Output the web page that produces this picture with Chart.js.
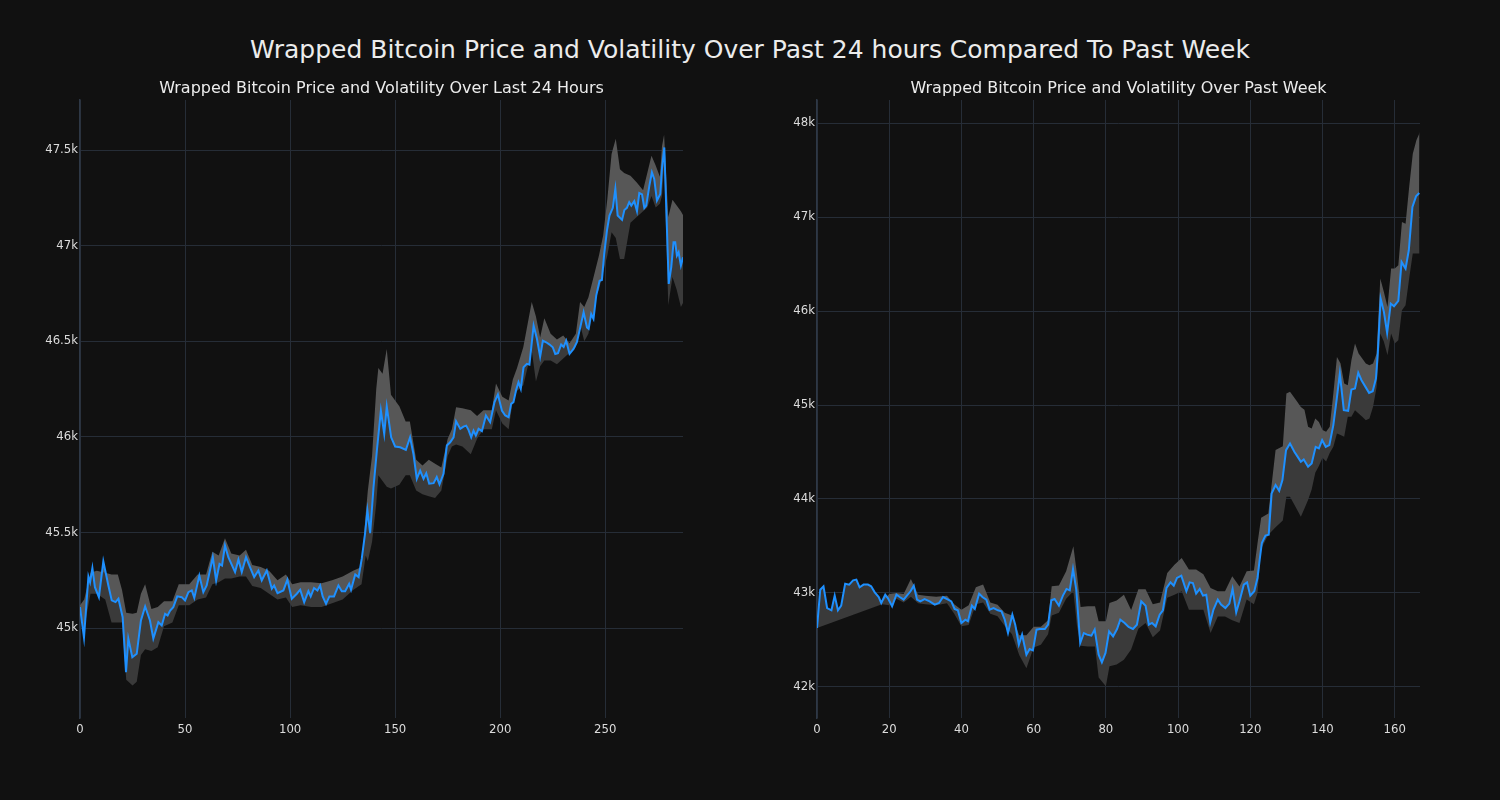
<!DOCTYPE html>
<html>
<head>
<meta charset="utf-8">
<script src="https://cdn.jsdelivr.net/npm/chart.js@4.4.0/dist/chart.umd.min.js"></script>
<style>
  html, body { margin: 0; padding: 0; background: #111111; width: 1500px; height: 800px; overflow: hidden; }
  #title { position: absolute; left: 0; top: 35px; width: 1500px; text-align: center; font: 25px "DejaVu Sans", sans-serif; line-height: 30px; color: #ececec; }
  canvas { position: absolute; }
</style>
</head>
<body>
<div id="title">Wrapped Bitcoin Price and Volatility Over Past 24 hours Compared To Past Week</div>
<canvas id="c1" width="763" height="678" style="left:0px;top:70px;"></canvas>
<canvas id="c2" width="763" height="678" style="left:737px;top:70px;"></canvas>
<script>
// ---------- Left: last 24 hours (5-minute steps) ----------
const dayX = [0,1.9,4,4.8,5.9,7.1,9,11.1,13.5,15.1,16.9,18.3,20.3,21.9,23,24.9,27,29,31,33.3,34.9,37.3,38.9,40.5,41.7,42.9,44.4,46.3,48.4,50,51.6,53.2,54.4,56.8,58.7,60.3,63.2,64.8,66.4,67.6,69,70.6,73.8,75.4,77,79,80.9,82.9,84.9,86.5,88.9,91.3,92.4,94,96.8,98.7,100.8,103.2,104.8,106.7,108.7,109.8,111.4,113,114.3,115.5,117.1,118.7,120.9,123,124.6,126.2,128.1,129,131,132.6,134.1,135.7,136.8,138.1,139.7,141.3,143.2,144.8,146,148.1,150,152.4,155.1,157.1,158.7,160.3,161.9,163.5,164.8,166.2,168.3,169.8,171.1,173,174.6,176.2,177.8,179,181,182.5,183.8,184.9,186.2,187.3,188.4,189.7,191.3,193.2,195.2,197.3,198.9,200.8,202.4,204,205.2,206.3,207.6,208.7,209.8,211.1,212.7,213.9,215.9,217.5,219,220.3,221.9,223.5,225,226.2,227.5,229,230.2,231.4,233,234.9,236.5,238.1,239.7,241.3,242.1,243.3,244.4,245.7,247.3,248.4,249.5,250.8,252,253.6,254.8,255.9,258,259.1,260.3,261.4,262.4,263.8,265.1,266.2,267.5,268.6,269.5,271,272.2,273.3,274.6,276.2,277,278.1,280.2,281.4,282.5,283.3,284.1,284.9,286,287];
const dayPrice = [45110,44950,45270,45240,45314,45214,45162,45349,45223,45145,45136,45154,45057,44770,44945,44848,44866,45040,45113,45040,44945,45031,45014,45075,45066,45092,45110,45166,45162,45145,45188,45197,45158,45275,45188,45223,45371,45249,45336,45327,45432,45371,45293,45358,45293,45371,45319,45267,45301,45249,45301,45206,45223,45183,45197,45253,45154,45180,45201,45136,45193,45166,45210,45197,45223,45166,45127,45166,45166,45223,45193,45193,45232,45201,45281,45267,45363,45497,45615,45497,45737,45929,46138,46016,46159,45998,45950,45946,45932,45998,45911,45781,45824,45781,45810,45755,45758,45790,45752,45807,45955,45972,45998,46082,46042,46054,46059,46037,45998,46033,46007,46042,46030,46112,46077,46182,46222,46138,46112,46103,46173,46182,46246,46286,46251,46364,46382,46378,46582,46512,46420,46503,46495,46483,46469,46434,46438,46483,46470,46503,46434,46460,46495,46573,46652,46573,46565,46643,46617,46739,46817,46821,46957,47079,47158,47198,47297,47158,47135,47187,47198,47228,47210,47233,47181,47275,47268,47198,47210,47314,47384,47349,47236,47271,47405,47514,46800,46887,47018,47018,46948,46966,46896,46939];
const dayBandX = [0,2,5,8,12,15,18,20,22,25,27,29,31,34,37,40,44,47,52,56,60,63,66,69,72,76,79,82,86,90,94,98,101,105,110,115,120,125,130,134,136,137,139,141,142,144,146,148,152,155,157,160,163,166,169,172,175,177,179,182,186,189,192,196,198,201,204,206,208,211,215,217,219,221,224,227,230,233,236,238,240,242,245,247,249,251,253,255,257,259,262,265,268,270,272,274,276,277,278,280,282,284,286,287];
const dayUpper = [45120,45150,45290,45300,45290,45280,45280,45200,45080,45075,45080,45180,45230,45100,45110,45140,45140,45230,45230,45280,45280,45400,45380,45470,45390,45380,45410,45330,45320,45300,45250,45280,45230,45240,45240,45235,45250,45270,45300,45320,45600,45720,45900,46250,46360,46330,46460,46220,46160,46080,46080,45880,45850,45880,45860,45840,45990,46040,46155,46150,46140,46110,46140,46140,46280,46210,46190,46300,46360,46470,46706,46630,46520,46620,46540,46510,46530,46490,46540,46706,46680,46730,46861,46949,47053,47245,47480,47560,47400,47380,47366,47330,47290,47380,47470,47420,47360,47520,47580,47150,47240,47210,47180,47160];
const dayLower = [45100,45000,45180,45180,45150,45030,45030,45030,44730,44700,44720,44860,44890,44880,44900,45010,45030,45120,45120,45150,45160,45230,45240,45260,45260,45270,45270,45220,45210,45180,45150,45160,45110,45120,45110,45110,45130,45150,45200,45230,45380,45350,45450,45650,45800,45770,45740,45730,45750,45800,45800,45720,45700,45690,45680,45720,45900,45950,45960,45950,45910,45990,46040,46040,46140,46070,46040,46190,46240,46270,46453,46290,46370,46400,46400,46380,46410,46440,46470,46590,46500,46540,46730,46770,46861,46949,47070,47040,46930,46930,47120,47150,47180,47200,47260,47200,47220,47260,47420,46690,46836,46770,46680,46700];
const dayTicksX = [0,50,100,150,200,250];
const dayTicksY = [45000,45500,46000,46500,47000,47500];

// ---------- Right: past week (hourly steps) ----------
const weekX = [0,0.9,1.8,2.8,4,4.9,5.8,6.7,7.8,8.9,10,10.9,11.8,12.9,14.1,15,16,17.1,17.8,18.9,19.7,20.8,22,22.9,24,24.9,25.9,26.8,27.7,28.6,29.8,31.2,32.6,33.8,34.9,36.3,37.2,38.1,39,40,41.1,41.8,42.9,43.7,44.9,45.8,46.9,47.8,48.9,50.1,51.1,52,52.9,54.1,54.9,55.9,56.8,58,58.9,59.8,60.8,61.7,63.1,64,64.9,65.8,67,68.1,69.1,70,70.9,71.8,72.9,73.9,74.8,76,76.9,78,78.9,79.9,80.9,82,83.1,84,85.2,86.3,87.5,88.6,89.8,91,91.9,92.8,93.8,94.9,95.8,96.8,97.9,98.8,99.7,100.9,102.3,103.2,104.1,105,106,106.9,107.8,108.9,109.8,111,111.9,113.1,114.2,115.1,116.1,117,118.2,119.1,120,121.1,122,122.6,123.2,124.2,125.1,125.9,127,128,128.9,129.9,131,132.2,133,134,134.8,136,137,138.1,139,139.9,140.9,141.9,143,143.9,144.8,145.9,147.1,148,149,149.9,150.8,151.9,152.9,153.9,154.8,155.3,156.1,157,157.9,158.9,159.8,161,161.9,163,163.9,164.9,165.9,166.8];
const weekPrice = [42628,43035,43071,42840,42816,42972,42816,42865,43099,43089,43135,43142,43060,43089,43089,43071,43007,42957,42894,42982,42940,42858,42982,42957,42929,42972,43018,43078,42929,42911,42936,42911,42876,42894,42957,42929,42911,42830,42816,42681,42716,42699,42865,42830,42993,42957,42929,42823,42840,42816,42805,42716,42574,42770,42663,42450,42557,42344,42404,42390,42610,42617,42617,42663,42922,42936,42865,42972,43043,43028,43255,43035,42468,42574,42557,42546,42610,42344,42262,42362,42592,42539,42617,42716,42681,42638,42617,42663,42911,42865,42663,42681,42645,42770,42816,43053,43113,43078,43160,43184,43018,43113,43106,42993,43043,42972,42982,42688,42823,42929,42876,42840,42887,43043,42794,42911,43089,43113,42972,43018,43160,43355,43532,43610,43620,44059,44148,44087,44201,44520,44591,44502,44456,44396,44421,44343,44378,44555,44538,44626,44555,44573,44786,45051,45335,44945,44938,45165,45175,45342,45264,45193,45129,45147,45282,45548,46132,45991,45767,46079,46051,46108,46522,46451,46646,47107,47220,47256];
const weekUpperX = [18,20,22,24,26,28,30,33,36,38,40,42,44,46,48,50,52,54,56,58,60,62,64,65,67,69,71,72,73,75,77,78,80,81,83,85,87,89,91,93,95,97,99,101,103,105,107,109,111,113,115,117,119,121,122,123,125,127,129,130,131,133,134,135,136,137,138,139,140,141,142,143,144,145,146,147,148,149,150,151,152,153,154,155,156,157,158,159,160,161,162,163,164,165,166,167];
const weekUpper = [42900,42990,43000,42990,43149,42980,42970,42960,42970,42880,42823,42870,43060,43089,42900,42876,42790,42760,42550,42550,42640,42640,42710,43071,43080,43230,43496,43200,42850,42860,42860,42700,42700,42894,42920,42980,42820,43040,43040,42880,42900,43213,43300,43372,43250,43250,43200,43053,43018,43018,43177,43070,43230,43240,43530,43800,43847,44520,44560,45122,45140,45034,44980,44950,44768,44750,44857,44820,44733,44715,44768,45122,45512,45442,45229,45210,45477,45654,45548,45495,45442,45424,45442,45548,46345,46203,46044,46451,46451,46487,46947,46929,47319,47674,47816,47904];
const weekLowerX = [0].concat(weekUpperX);
const weekLower = [42628,42880,42870,42940,42900,42960,42890,42880,42870,42890,42780,42645,42660,42880,42900,42780,42752,42650,42560,42340,42200,42420,42450,42560,42760,42790,42940,43018,42650,42440,42430,42430,42100,42007,42220,42240,42290,42400,42620,42680,42530,42600,42950,42980,43018,42823,42823,42823,42574,42750,42750,42710,42681,42930,42880,43000,43470,43620,43700,43770,44024,44024,43882,43811,43900,43990,44100,44280,44350,44440,44400,44490,44555,44697,44680,44662,44875,44875,44945,44910,44875,44839,44857,44981,45193,45760,45672,45530,45760,45654,45690,46008,46061,46345,46611,46611,46611];
const weekTicksX = [0,20,40,60,80,100,120,140,160];
const weekTicksY = [42000,43000,44000,45000,46000,47000,48000];

const pts = (xs, ys) => xs.map((x, i) => ({ x: x, y: ys[i] }));
const FONT = '"DejaVu Sans", sans-serif';
const GRID = '#262d37';
const fmtK = v => (v / 1000) + 'k';

function makeChart(id, title, price, upper, lower, xr, yr, xTicks, yTicks) {
  const ctx = document.getElementById(id).getContext('2d');
  return new Chart(ctx, {
    type: 'line',
    data: {
      datasets: [
        { data: price, borderColor: '#1e90ff', borderWidth: 2, pointRadius: 0, fill: false, tension: 0 },
        { data: upper, borderWidth: 0, borderColor: 'rgba(0,0,0,0)', pointRadius: 0, backgroundColor: '#575757', fill: '-1', tension: 0 },
        { data: lower, borderWidth: 0, borderColor: 'rgba(0,0,0,0)', pointRadius: 0, backgroundColor: '#3a3a3a', fill: '-2', tension: 0 }
      ]
    },
    options: {
      responsive: false,
      animation: false,
      events: [],
      layout: { padding: 0 },
      plugins: {
        legend: { display: false },
        tooltip: { enabled: false },
        title: { display: true, text: title, color: '#ececec', font: { family: FONT, size: 16, weight: 'normal' }, padding: { top: 9.4, bottom: 1.4 } }
      },
      scales: {
        x: {
          type: 'linear', min: xr[0], max: xr[1],
          grid: { color: GRID, lineWidth: 1, drawTicks: false },
          border: { display: false },
          afterBuildTicks: s => { s.ticks = xTicks.map(v => ({ value: v })); },
          ticks: { color: '#dcdcdc', font: { family: FONT, size: 11.7 }, padding: 5, maxRotation: 0, callback: v => String(v) },
          afterFit: s => { s.height = 30; s.paddingLeft = 0; s.paddingRight = 0; }
        },
        y: {
          type: 'linear', position: 'left', min: yr[0], max: yr[1],
          grid: { color: GRID, lineWidth: 1, drawTicks: false },
          border: { display: true, color: '#2e3846', width: 1.5 },
          afterBuildTicks: s => { s.ticks = yTicks.map(v => ({ value: v })); },
          ticks: { color: '#dcdcdc', font: { family: FONT, size: 11.7 }, padding: 2, callback: v => fmtK(v) },
          afterFit: s => { s.width = 80; s.paddingTop = 0; s.paddingBottom = 0; }
        },
        yRight: {
          type: 'linear', position: 'right', min: yr[0], max: yr[1], display: true,
          grid: { display: false, drawTicks: false },
          border: { display: false },
          ticks: { display: false },
          afterFit: s => { s.width = 80; s.paddingTop = 0; s.paddingBottom = 0; }
        }
      }
    }
  });
}

makeChart('c1', 'Wrapped Bitcoin Price and Volatility Over Last 24 Hours',
  pts(dayX, dayPrice), pts(dayBandX, dayUpper), pts(dayBandX, dayLower),
  [0, 287], [44530, 47762], dayTicksX, dayTicksY);

makeChart('c2', 'Wrapped Bitcoin Price and Volatility Over Past Week',
  pts(weekX, weekPrice), pts(weekUpperX, weekUpper), pts(weekLowerX, weekLower),
  [0, 167], [41670, 48245], weekTicksX, weekTicksY);
</script>
</body>
</html>
